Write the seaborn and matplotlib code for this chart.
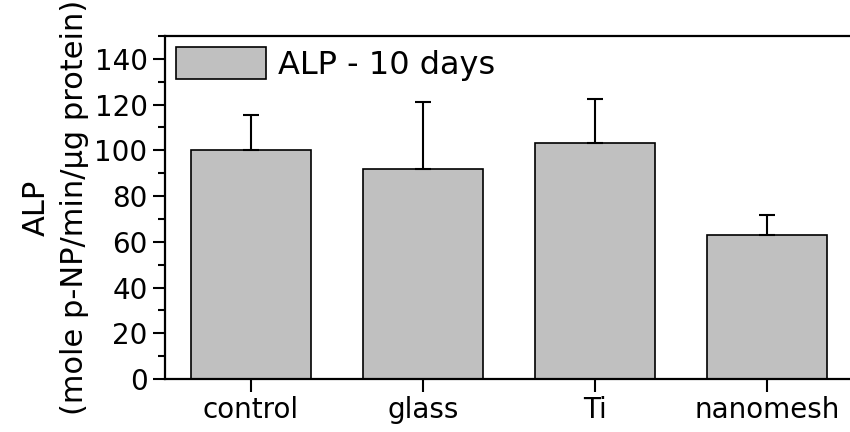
import pandas as pd
import matplotlib
matplotlib.use("Agg")
import matplotlib.pyplot as plt
import seaborn as sns
from matplotlib.ticker import MultipleLocator

groups = ["control", "glass", "Ti", "nanomesh"]
alp_mean = [100, 92, 103, 63]
alp_err = [15.5, 29, 19.5, 8.5]

df = pd.DataFrame({"group": groups, "alp": alp_mean})

sns.set_style("ticks", {"axes.edgecolor": "black", "text.color": "black",
                        "xtick.color": "black", "ytick.color": "black",
                        "axes.labelcolor": "black"})
plt.rcParams["font.family"] = ["DejaVu Sans"]

fig = plt.figure(figsize=(8.5, 4.32), dpi=100)
ax = fig.add_axes([0.194, 0.1227, 0.8094, 0.794])

sns.barplot(data=df, x="group", y="alp", color="#c0c0c0", edgecolor="black",
            linewidth=1.2, width=0.7, saturation=1, ax=ax, label="ALP - 10 days")
ax.errorbar(range(len(groups)), alp_mean, yerr=[[0] * len(groups), alp_err],
            fmt="none", ecolor="black", elinewidth=1.5, capsize=6, capthick=1.5)

ax.set_xlim(-0.5, 3.5)
ax.set_ylim(0, 150)
ax.yaxis.set_major_locator(MultipleLocator(20))
ax.yaxis.set_minor_locator(MultipleLocator(10))
ax.tick_params(axis="both", which="major", labelsize=20, length=9, width=1.5,
               direction="out", colors="black")
ax.tick_params(axis="y", which="minor", length=5, width=1.5, colors="black")
ax.set_xlabel("")
ax.set_ylabel("ALP\n(mole p-NP/min/\u03bcg protein)", fontsize=22, labelpad=4,
              linespacing=1.4, color="black")

for side in ["left", "bottom", "top"]:
    ax.spines[side].set_linewidth(1.6)
    ax.spines[side].set_color("black")
ax.spines["right"].set_visible(False)

leg = ax.legend(loc="upper left", frameon=False, fontsize=23, handlelength=2.8,
                handleheight=1.15, borderaxespad=0.0, borderpad=0.35,
                handletextpad=0.4, bbox_to_anchor=(0.0, 1.0))
for t in leg.get_texts():
    t.set_color("black")

fig.savefig("out.png", dpi=100)
